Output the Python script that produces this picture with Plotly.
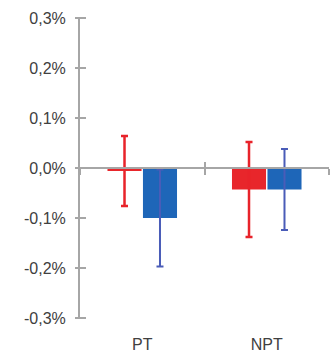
import plotly.graph_objects as go

# Categories and series (values in percent)
categories = ["PT", "NPT"]
red_values = [-0.006, -0.043]
red_errors = [0.07, 0.095]
blue_values = [-0.100, -0.043]
blue_errors = [0.097, 0.081]

y_tickvals = [-0.3, -0.2, -0.1, 0.0, 0.1, 0.2, 0.3]
y_ticktext = ["-0,3%", "-0,2%", "-0,1%", "0,0%", "0,1%", "0,2%", "0,3%"]

AXIS_GRAY = "#a6a6a6"
TEXT_GRAY = "#404040"
FONT = dict(family="Arial, Liberation Sans, sans-serif", size=16, color=TEXT_GRAY)

fig = go.Figure()

fig.add_trace(go.Bar(
    x=categories, y=red_values, marker=dict(color="#e8262b", line=dict(width=0)),
    error_y=dict(type="data", array=red_errors, symmetric=True,
                 color="#e8232a", thickness=2.5, width=3.5),
    showlegend=False, hoverinfo="skip",
))
fig.add_trace(go.Bar(
    x=categories, y=blue_values, marker=dict(color="#1e66b8", line=dict(width=0)),
    error_y=dict(type="data", array=blue_errors, symmetric=True,
                 color="#4a5cb8", thickness=2, width=3.5),
    showlegend=False, hoverinfo="skip",
))

# Placeholder traces so the overlay axes (zero line, crossing ticks) are drawn
fig.add_trace(go.Scatter(x=[None], y=[None], xaxis="x2", yaxis="y",
                         showlegend=False, hoverinfo="skip"))
fig.add_trace(go.Scatter(x=[None], y=[None], xaxis="x3", yaxis="y",
                         showlegend=False, hoverinfo="skip"))
fig.add_trace(go.Scatter(x=[None], y=[None], xaxis="x", yaxis="y2",
                         showlegend=False, hoverinfo="skip"))

boundary_ticks = [-0.5, 0.5, 1.5]

fig.update_layout(
    width=334, height=356,
    margin=dict(l=80, r=5, t=18, b=38),
    paper_bgcolor="white", plot_bgcolor="white",
    barmode="group", bargap=0.43, bargroupgap=0.04,
    font=FONT,
    xaxis=dict(
        type="category", range=[-0.5, 1.5], automargin=False,
        showline=False, showgrid=False, zeroline=False, ticks="",
        tickfont=FONT, ticklabelstandoff=15,
    ),
    xaxis2=dict(
        overlaying="x", anchor="free", position=0.5, automargin=False,
        range=[-0.5, 1.5], tickvals=boundary_ticks, showticklabels=False,
        showline=True, linecolor=AXIS_GRAY, linewidth=2,
        ticks="outside", ticklen=6, tickwidth=2, tickcolor=AXIS_GRAY,
        showgrid=False, zeroline=False,
    ),
    xaxis3=dict(
        overlaying="x", anchor="free", position=0.5, automargin=False,
        range=[-0.5, 1.5], tickvals=boundary_ticks, showticklabels=False,
        showline=False,
        ticks="inside", ticklen=6, tickwidth=2, tickcolor=AXIS_GRAY,
        showgrid=False, zeroline=False,
    ),
    yaxis=dict(
        range=[-0.3, 0.3], tickvals=y_tickvals, ticktext=y_ticktext,
        automargin=False,
        showline=True, linecolor=AXIS_GRAY, linewidth=2,
        ticks="", showgrid=False, zeroline=False, tickfont=FONT,
        ticklabelstandoff=9,
    ),
    # Crossing tick marks on the value axis: one long tick shifted right
    yaxis2=dict(
        overlaying="y", anchor="free", position=0, side="left", shift=6,
        automargin=False, autoshift=False,
        range=[-0.3, 0.3], tickvals=y_tickvals, showticklabels=False,
        showline=False,
        ticks="outside", ticklen=11, tickwidth=2, tickcolor=AXIS_GRAY,
        showgrid=False, zeroline=False,
    ),
)

fig.write_html("out.html")
